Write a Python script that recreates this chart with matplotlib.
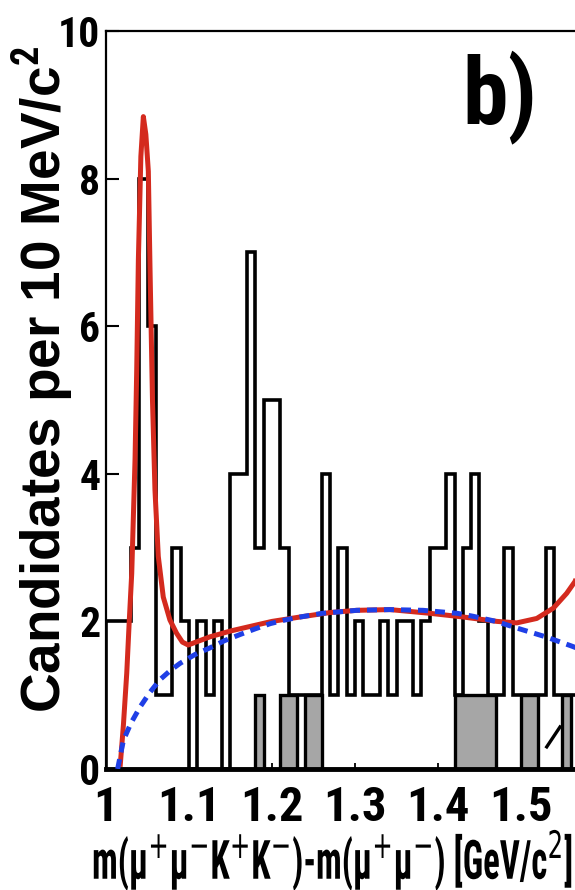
import numpy as np
import matplotlib
matplotlib.use("Agg")
import matplotlib.pyplot as plt
from matplotlib import font_manager
from matplotlib import patheffects
from matplotlib.font_manager import FontProperties
from matplotlib.transforms import Affine2D


def weight_of(f):
    w = f.weight
    if isinstance(w, str):
        w = font_manager.weight_dict.get(w, 400)
    return w


# the reference lettering is a squeezed bold sans: look for a bold condensed file
cond = None
for pref in ['Liberation Sans Narrow', 'Roboto Condensed', 'DejaVu Sans', 'Open Sans', '']:
    for f in font_manager.fontManager.ttflist:
        squeezed = ('Narrow' in f.name or 'Condensed' in f.name
                    or 'condensed' in str(f.stretch))
        if (squeezed and weight_of(f) >= 600 and pref in f.name
                and 'Mono' not in f.name and 'Serif' not in f.name
                and 'Italic' not in f.fname and 'Oblique' not in f.fname):
            cond = f
            break
    if cond is not None:
        break

if cond is not None:
    face = FontProperties(fname=cond.fname)
    plt.rcParams['mathtext.rm'] = cond.name + ':bold'
else:
    face = FontProperties(family='Liberation Sans', weight='bold')
    plt.rcParams['mathtext.rm'] = 'Liberation Sans:bold'
plt.rcParams['mathtext.fontset'] = 'custom'
plt.rcParams['mathtext.bf'] = plt.rcParams['mathtext.rm']


def sized(size):
    fp = face.copy()
    fp.set_size(size)
    return fp


class Squeeze(patheffects.AbstractPathEffect):
    """draw text narrower than the font, about a fixed left edge (pixels)"""

    def __init__(self, sx, x0):
        super().__init__()
        self.sx = sx
        self.x0 = x0

    def draw_path(self, renderer, gc, tpath, affine, rgbFace=None):
        sq = Affine2D().translate(-self.x0, 0).scale(self.sx, 1).translate(self.x0, 0)
        renderer.draw_path(gc, tpath, affine + sq, rgbFace)


# histogram contents, 10 MeV bins starting at 1.00 GeV/c^2
bin_lo = 1.00
bin_width = 0.01
data_counts = [2, 2, 2, 3, 8, 6, 1, 1, 3, 2,
               0, 2, 1, 2, 0, 4, 4, 7, 3, 5,
               5, 3, 1, 1, 1, 1, 4, 1, 3, 1,
               2, 1, 1, 2, 1, 2, 2, 1, 2, 3,
               3, 4, 1, 3, 4, 2, 1, 1, 3, 1,
               1, 1, 1, 3, 1, 1, 1, 1]
side_counts = [0, 0, 0, 0, 0, 0, 0, 0, 0, 0,
               0, 0, 0, 0, 0, 0, 0, 0, 1, 0,
               0, 1, 1, 0, 1, 1, 0, 0, 0, 0,
               0, 0, 0, 0, 0, 0, 0, 0, 0, 0,
               0, 0, 1, 1, 1, 1, 1, 0, 0, 0,
               1, 1, 0, 0, 0, 1, 0, 0]

# total fit (red)
fit_x = [1.017, 1.021, 1.025, 1.028, 1.031, 1.035, 1.037, 1.039, 1.042, 1.045,
         1.048, 1.051, 1.053, 1.056, 1.059, 1.063, 1.069, 1.077, 1.085, 1.092,
         1.099, 1.125, 1.150, 1.173, 1.200, 1.234, 1.270, 1.302, 1.342, 1.390,
         1.430, 1.471, 1.495, 1.519, 1.539, 1.555, 1.565, 1.580]
fit_y = [0.03, 0.6, 1.3, 2.0, 2.65, 4.2, 5.4, 6.9, 8.3, 8.84,
         8.6, 8.1, 6.8, 5.0, 3.78, 2.88, 2.33, 2.02, 1.84, 1.72,
         1.68, 1.79, 1.87, 1.93, 2.0, 2.06, 2.12, 2.15, 2.16, 2.11,
         2.06, 2.0, 1.98, 2.04, 2.18, 2.38, 2.54, 2.95]

# background part of the fit (blue dashed)
bkg_x = [1.014, 1.021, 1.030, 1.041, 1.053, 1.065, 1.077, 1.089, 1.107, 1.125,
         1.143, 1.161, 1.180, 1.198, 1.216, 1.234, 1.261, 1.302, 1.342, 1.382,
         1.423, 1.442, 1.470, 1.495, 1.530, 1.560, 1.600]
bkg_y = [0.00, 0.39, 0.62, 0.84, 1.04, 1.21, 1.33, 1.43, 1.55, 1.64,
         1.74, 1.82, 1.90, 1.97, 2.02, 2.06, 2.11, 2.15, 2.16, 2.15,
         2.11, 2.07, 2.00, 1.91, 1.79, 1.67, 1.50]

# piece of a third component near the right edge
comp_x = [1.531, 1.547]
comp_y = [0.30, 0.57]

W, H = 575, 890
fig = plt.figure(figsize=(W / 100, H / 100), dpi=100)
ax = fig.add_axes([106 / W, (H - 769) / H, 498 / W, 738 / H])

edges = bin_lo + bin_width * np.arange(len(data_counts) + 1)
ax.stairs(side_counts, edges, fill=True, color='#a6a6a6', zorder=2)
ax.stairs(side_counts, edges, color='black', lw=2.4, zorder=3)
ax.stairs(data_counts, edges, color='black', lw=2.6, zorder=3)

ax.plot(fit_x, fit_y, color='#d42a1e', lw=3.6, zorder=4, solid_capstyle='butt')
ax.plot(bkg_x, bkg_y, color='#1f3fe6', lw=3.6, dashes=(2.0, 1.4), zorder=5)
ax.plot(comp_x, comp_y, color='black', lw=2.4, zorder=4)

ax.set_xlim(1.0, 1.6)
ax.set_ylim(0, 10)

ax.set_yticks([0, 2, 4, 6, 8, 10])
ax.set_yticklabels(['0', '2', '4', '6', '8', '10'])
ax.set_xticks([1.0, 1.1, 1.2, 1.3, 1.4, 1.5])
ax.set_xticklabels(['1', '1.1', '1.2', '1.3', '1.4', '1.5'])
ax.tick_params(axis='y', direction='in', length=9.5, width=1.5, pad=4)
ax.tick_params(axis='x', direction='in', length=4.5, width=1.3, pad=11.5)
for lab in ax.get_yticklabels():
    lab.set_fontproperties(sized(30))
for lab in ax.get_xticklabels():
    lab.set_fontproperties(sized(35))

for side in ['left', 'top', 'right']:
    ax.spines[side].set_linewidth(1.6)
ax.spines['bottom'].set_linewidth(3.5)

ax.text(1.474, 9.1, 'b)', fontproperties=sized(66), ha='center', va='center')

fig.text(42 / W, 1 - 380 / H, 'Candidates per 10 MeV/c$^{2}$', rotation=90,
         fontsize=39.5, fontweight='bold', family='Liberation Sans',
         ha='center', va='center')

# x title: full height as in the reference, squeezed sideways to its width
title_left = 92
xt = fig.text(title_left / W, 1 - 861 / H,
              'm(μ$^{+}$μ$^{-}$K$^{+}$K$^{-}$)-m(μ$^{+}$μ$^{-}$) [GeV/c$^{2}$]',
              fontproperties=sized(39), ha='left', va='center')
renderer = fig.canvas.get_renderer()
span = xt.get_window_extent(renderer).width
if span > 480:
    xt.set_path_effects([Squeeze(480 / span, title_left)])

fig.savefig('out.png', dpi=100)
